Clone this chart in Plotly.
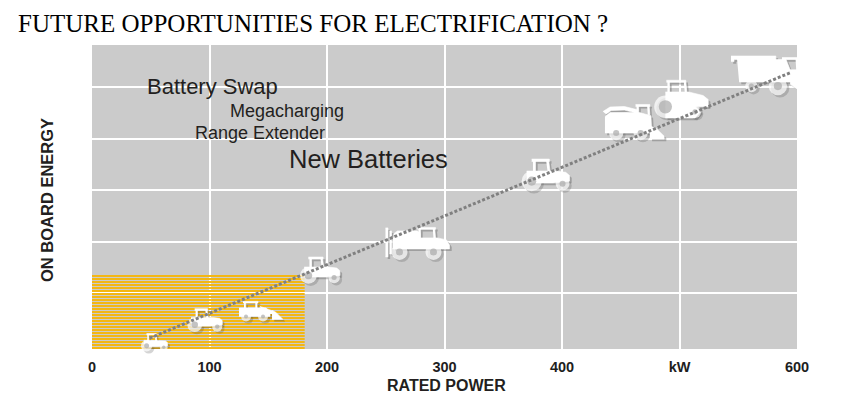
import plotly.graph_objects as go

# ---- data -----------------------------------------------------------------
vehicle_kinds = ["tractor", "tractor", "loader", "tractor", "sprayer",
                 "tractor", "forager", "tracked", "combine"]
vehicle_power = [53, 96, 143, 194, 277, 386, 460, 501, 582]          # kW
vehicle_energy = [0.05, 0.48, 0.65, 1.45, 1.96, 3.30, 4.31, 4.76, 5.26]

trend_power = [49, 594]
trend_energy = [0.13, 5.28]

zone_power = [0, 181]          # today's battery-electric zone
zone_energy = [-0.08, 1.39]

label_text = ["Battery Swap", "Megacharging", "Range Extender", "New Batteries"]
label_power = [45, 116, 86, 166]
label_energy = [5.01, 4.53, 4.11, 3.60]

tick_vals = [0, 100, 200, 300, 400, 500, 600]
tick_text = ["0", "100", "200", "300", "400", "kW", "600"]
grid_x = [100, 200, 300, 400, 500]
grid_y = [1, 2, 3, 4, 5]

# ---- styling ---------------------------------------------------------------
PAGE_OFF = 8                    # default body margin of the html page
W, H = 850 - PAGE_OFF, 402 - PAGE_OFF
ML, MR, MT, MB = 92 - PAGE_OFF, 53, 45 - PAGE_OFF, 53
PW, PH = W - ML - MR, H - MT - MB
X_RANGE = [0, 600]
Y_RANGE = [-0.08, 5.82]
PLOT_BG = "#cbcbcb"
YELLOW = "#f3b714"
TEXT = "#231f20"
SANS = "Liberation Sans, Arial, sans-serif"
SERIF = "Liberation Serif, Times New Roman, serif"

icon_scale = [0.7, 0.92, 1.0, 1.05, 1.0, 1.26, 1.02, 1.02, 1.02]
label_size = [22, 18, 18, 25.5]

X_PER_PX = (X_RANGE[1] - X_RANGE[0]) / PW
Y_PER_PX = (Y_RANGE[1] - Y_RANGE[0]) / PH

# icon outlines in screen pixels around the vehicle position (y grows down)
ICONS = {
    "tractor": {
        "polys": [
            [(-11, -12.5), (3, -12.5), (3, -10.6), (-11, -10.6)],
            [(-10, -11), (-8, -11), (-8, -2), (-10, -2)],
            [(0.5, -11), (2.5, -11), (3.7, -2), (1.7, -2)],
            [(-15, -3), (8, -3), (16, -2), (19, 0.5), (19, 5), (6, 6.5), (-15, 6.5)],
        ],
        "wheels": [(-11, 5, 8, 3.6), (13.5, 7, 5.5, 2.4)],
    },
    "loader": {
        "polys": [
            [(-17, -10), (-2, -10), (-2, -8.4), (-17, -8.4)],
            [(-16, -9), (-14.3, -9), (-14.3, -3), (-16, -3)],
            [(-4.7, -9), (-3, -9), (-3, -3), (-4.7, -3)],
            [(-21, -3.5), (6, -3.5), (10, 1), (10, 5), (-21, 5)],
            [(0, -5), (14, 0), (14, 3), (2, -1)],
            [(12, -1), (16, 1), (23, 8), (12, 8)],
        ],
        "wheels": [(-14, 5, 5, 2), (3, 5, 5, 2)],
    },
    "sprayer": {
        "polys": [
            [(-32, -16), (-29.5, -16), (-29.5, 13), (-32, 13)],
            [(-28, -13), (-26, -13), (-26, 10), (-28, 10)],
            [(-24, -10), (-20, -13), (0, -13), (3, -10), (3, 2), (-24, 2)],
            [(0, -16.5), (18, -16.5), (18, -14.6), (0, -14.6)],
            [(1, -15), (3, -15), (3, -6), (1, -6)],
            [(15.3, -15), (17.3, -15), (18, -6), (16, -6)],
            [(-25, -6), (20, -6), (29, -4), (32, 1), (32, 5), (-25, 5)],
        ],
        "wheels": [(-18, 8, 8, 3.5), (16, 8, 8, 3.5)],
    },
    "forager": {
        "polys": [
            [(-29, -11), (-22, -15.5), (-8, -16), (4, -13), (4, -9.5),
             (-8, -12.5), (-21, -12), (-26, -8.5)],
            [(-27, -6), (-22, -10), (7, -10), (18, -7), (19, 10), (-27, 10)],
            [(3, -18), (17, -18), (17, -16.1), (3, -16.1)],
            [(4, -17), (6, -17), (6, -9), (4, -9)],
            [(14.3, -17), (16.3, -17), (17, -8), (15, -8)],
            [(17, 3), (24, 6), (31, 13), (31, 16), (17, 16)],
        ],
        "wheels": [(-16, 10, 7, 3), (8, 10, 7, 3)],
    },
    "tracked": {
        "polys": [
            [(-14, -19), (5, -19), (5, -17), (-14, -17)],
            [(-13, -18), (-11, -18), (-11, -7), (-13, -7)],
            [(3, -18), (5, -18), (6, -7), (4, -7)],
            [(-15, -7.5), (8, -7.5), (22, -4), (27, 0), (27, 7), (-15, 7)],
            [(-15, -3), (14, 6.5), (19.5, 12), (14, 18), (-15, 18)],
        ],
        "wheels": [(-15, 7, 11, 6.5), (14, 12, 6, 2.5)],
    },
    "combine": {
        "polys": [
            [(-44, -17.5), (0, -17.5), (0, -14), (-41, -14), (-41, -12), (-44, -12)],
            [(-38, -14), (10, -14), (14, -4), (16, 8), (-36, 8)],
            [(6, -16), (22, -16), (22, -14), (6, -14)],
            [(7, -15), (9, -15), (9, -3), (7, -3)],
            [(19.3, -15), (21.3, -15), (22, -3), (20, -3)],
            [(6, -4), (22, -4), (22, 2), (10, 2)],
            [(14, 2), (24, 1), (38, 5), (46, 10), (40, 14), (22, 16), (14, 10)],
        ],
        "wheels": [(-24, 12, 6, 2.5), (2, 12, 9, 4)],
    },
}


def icon_geometry(shift_px=0.0):
    px, py = [], []
    wx, wy, ws = [], [], []
    hx, hy, hs = [], [], []
    for kind, xv, yv, sc in zip(vehicle_kinds, vehicle_power, vehicle_energy, icon_scale):
        icon = ICONS[kind]
        for poly in icon["polys"]:
            for ox, oy in poly:
                px.append(xv + (ox * sc + shift_px) * X_PER_PX)
                py.append(yv - (oy * sc + shift_px) * Y_PER_PX)
            px.append(None)
            py.append(None)
        for cx, cy, r, hr in icon["wheels"]:
            x = xv + (cx * sc + shift_px) * X_PER_PX
            y = yv - (cy * sc + shift_px) * Y_PER_PX
            wx.append(x); wy.append(y); ws.append(2 * r * sc)
            hx.append(x); hy.append(y); hs.append(2 * hr * sc)
    return px, py, wx, wy, ws, hx, hy, hs


fig = go.Figure()

# yellow striped zone: 2px yellow lines every 3px, snapped to the pixel grid
stripe_x, stripe_y = [], []
k = 0
while True:
    yv = Y_RANGE[0] + (1 + 3 * k) * Y_PER_PX
    if yv > zone_energy[1]:
        break
    stripe_x += [zone_power[0], zone_power[1], None]
    stripe_y += [yv, yv, None]
    k += 1
fig.add_trace(go.Scatter(
    x=stripe_x, y=stripe_y, mode="lines",
    line=dict(width=2, color=YELLOW),
    hoverinfo="skip", showlegend=False,
))

# vehicle silhouettes: drop shadow first, then white bodies
spx, spy, swx, swy, sws, _, _, _ = icon_geometry(shift_px=2.2)
bpx, bpy, bwx, bwy, bws, hx, hy, hs = icon_geometry()

fig.add_trace(go.Scatter(
    x=spx, y=spy, mode="lines", fill="toself",
    fillcolor="rgba(70,70,70,0.33)", line=dict(width=0, color="rgba(0,0,0,0)"),
    hoverinfo="skip", showlegend=False,
))
fig.add_trace(go.Scatter(
    x=swx, y=swy, mode="markers",
    marker=dict(size=sws, color="rgba(70,70,70,0.33)", line=dict(width=0)),
    hoverinfo="skip", showlegend=False, cliponaxis=False,
))
fig.add_trace(go.Scatter(
    x=bpx, y=bpy, mode="lines", fill="toself",
    fillcolor="#ffffff", line=dict(width=0.6, color="#ffffff"),
    hoverinfo="skip", showlegend=False,
))
fig.add_trace(go.Scatter(
    x=bwx, y=bwy, mode="markers",
    marker=dict(size=bws, color="#ffffff", line=dict(width=0)),
    hoverinfo="skip", showlegend=False, cliponaxis=False,
))
fig.add_trace(go.Scatter(
    x=hx, y=hy, mode="markers",
    marker=dict(size=hs, color="#a9a9a9", line=dict(width=0)),
    hoverinfo="skip", showlegend=False, cliponaxis=False,
))

# dotted trend
fig.add_trace(go.Scatter(
    x=trend_power, y=trend_energy, mode="lines",
    line=dict(color="#808080", width=3, dash="3px,2px"),
    hoverinfo="skip", showlegend=False,
))

for txt, xv, yv, sz in zip(label_text, label_power, label_energy, label_size):
    fig.add_annotation(x=xv, y=yv, xref="x", yref="y", text=txt, showarrow=False,
                       xanchor="left", yanchor="middle",
                       font=dict(family=SANS, size=sz, color=TEXT))

# axis titles, positions given in page pixels
fig.add_annotation(x=(447 - PAGE_OFF - ML) / PW, y=(H + PAGE_OFF - MB - 385.7) / PH,
                   xref="paper", yref="paper", text="RATED POWER", showarrow=False,
                   xanchor="center", yanchor="middle",
                   font=dict(family=SANS, size=16, color=TEXT, weight="bold"))
fig.add_annotation(x=(47 - PAGE_OFF - ML) / PW, y=(H + PAGE_OFF - MB - 200) / PH,
                   xref="paper", yref="paper", text="ON BOARD ENERGY", showarrow=False,
                   textangle=-90, xanchor="center", yanchor="middle",
                   font=dict(family=SANS, size=16.5, color=TEXT, weight="bold"))

fig.update_layout(
    width=W, height=H,
    margin=dict(l=ML, r=MR, t=MT, b=MB),
    paper_bgcolor="white", plot_bgcolor=PLOT_BG,
    title=dict(text="FUTURE OPPORTUNITIES FOR ELECTRIFICATION ?",
               x=(18 - PAGE_OFF) / W, xanchor="left", xref="container",
               y=1 - (23.3 - PAGE_OFF) / H, yanchor="middle",
               font=dict(family=SERIF, size=25, color="#000000")),
    showlegend=False,
)
fig.update_xaxes(
    range=X_RANGE, tickmode="array", tickvals=tick_vals, ticktext=tick_text,
    showgrid=False, zeroline=False, showline=False,
    ticks="outside", ticklen=5, tickcolor="rgba(0,0,0,0)",
    tickfont=dict(family=SANS, size=14.5, color="#1e1e1e", weight="bold"),
    minor=dict(tickmode="array", tickvals=grid_x, showgrid=True,
               gridcolor="white", gridwidth=1.5, ticks=""),
    fixedrange=True,
)
fig.update_yaxes(
    range=Y_RANGE, tickmode="array", tickvals=grid_y, showticklabels=False,
    showgrid=True, gridcolor="white", gridwidth=1.5, zeroline=False,
    showline=False, ticks="", fixedrange=True,
)

fig.write_html("out.html")
